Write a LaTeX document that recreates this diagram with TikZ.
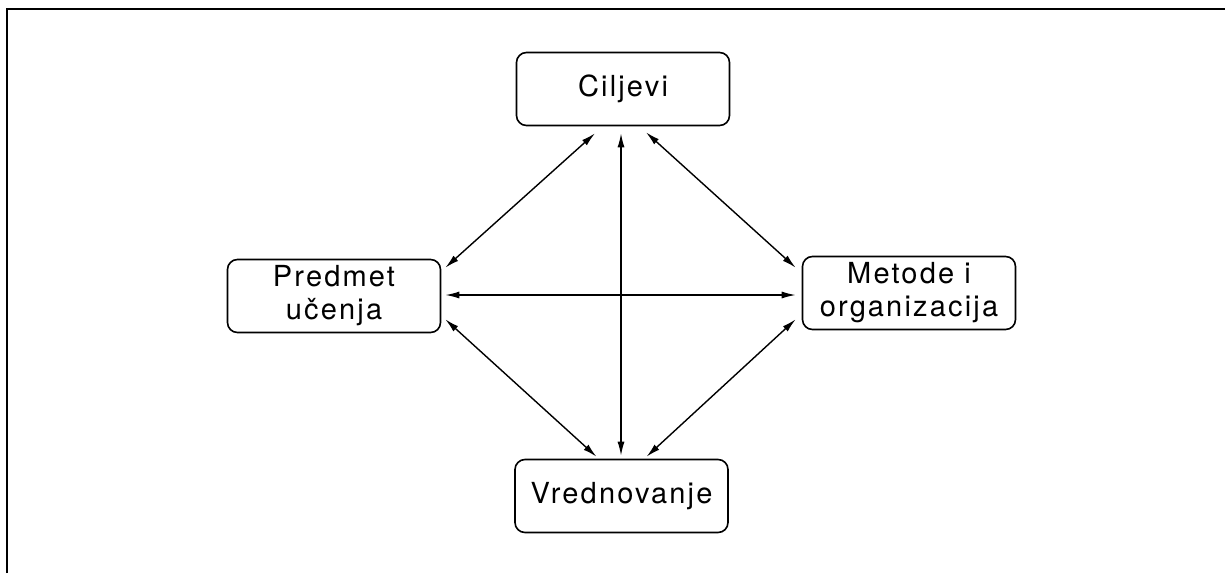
\documentclass[tikz,border=0pt]{standalone}
\usepackage{fontspec}
\setmainfont{TeX Gyre Heros}[LetterSpace=7.5]
\usetikzlibrary{arrows.meta}
\begin{document}
\begin{tikzpicture}[x=1pt,y=1pt,
  box/.style={draw, line width=1.6pt, rounded corners=10pt, minimum width=213pt, minimum height=73pt, align=center, inner sep=0pt, font=\fontsize{29}{33}\selectfont},
  link/.style={line width=1.4pt, {Latex[length=14pt,width=7pt]}-{Latex[length=14pt,width=7pt]}}]
\useasboundingbox (0,0) rectangle (1225,-573);
\draw[line width=1.8pt] (7,-573) -- (7,-9) -- (1225,-9);
\node[box] (C) at (623,-89) {Ciljevi};
\node[box] (P) at (334,-296) {Predmet\\učenja};
\node[box] (M) at (909,-293) {Metode i\\organizacija};
\node[box] (V) at (621.5,-496) {Vrednovanje};
\draw[link] ([xshift=-28pt,yshift=-7pt]C.south) -- ([xshift=4pt,yshift=-9pt]P.north east);
\draw[link] ([xshift=23pt,yshift=-6pt]C.south) -- ([xshift=-6pt,yshift=-12pt]M.north west);
\draw[link] ([xshift=-2pt,yshift=-7pt]C.south) -- ([xshift=-0.5pt,yshift=3pt]V.north);
\draw[link] ([xshift=4pt,yshift=1pt]P.east) -- ([xshift=-6pt,yshift=-2pt]M.west);
\draw[link] ([xshift=4pt,yshift=14pt]P.south east) -- ([xshift=-25pt,yshift=2pt]V.north);
\draw[link] ([xshift=-6pt,yshift=11pt]M.south west) -- ([xshift=25pt,yshift=2pt]V.north);
\end{tikzpicture}
\end{document}
